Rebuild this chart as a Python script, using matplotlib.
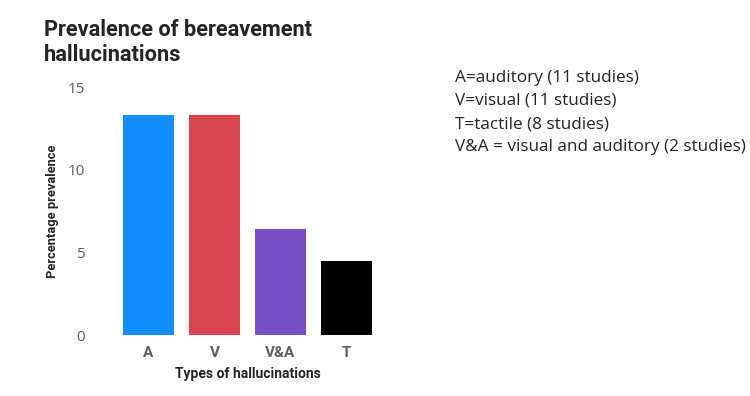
import matplotlib
matplotlib.use("Agg")
import matplotlib.pyplot as plt

# data
types = ['A', 'V', 'V&A', 'T']
prevalence = [13.3, 13.3, 6.4, 4.5]
bar_colors = ['#118DFF', '#D64550', '#744EC2', '#000000']
notes = ['A=auditory (11 studies)',
         'V=visual (11 studies)',
         'T=tactile (8 studies)',
         'V&A = visual and auditory (2 studies)']

fig = plt.figure(figsize=(7.5, 3.96), dpi=100)
ax = fig.add_axes([0.154, 0.154, 0.352, 0.626])

ax.bar(range(len(types)), prevalence, width=0.77, color=bar_colors)
ax.set_xlim(-0.5, 3.5)
ax.set_ylim(0, 15)
ax.set_yticks([0, 5, 10, 15])
ax.set_xticks(range(len(types)))
ax.set_xticklabels(types, fontsize=11, fontweight='bold', color='#605E5C', family='Roboto')
for lab in ax.get_yticklabels():
    lab.set_fontsize(11)
    lab.set_color('#605E5C')
    lab.set_family('Open Sans')
ax.tick_params(length=0)
ax.tick_params(axis='y', pad=22)
ax.tick_params(axis='x', pad=8)
for s in ax.spines.values():
    s.set_visible(False)

ax.set_ylabel('Percentage prevalence', fontsize=9.3, fontweight='bold', color='#252423', family='Roboto', labelpad=6)
ax.set_xlabel('Types of hallucinations', fontsize=10, fontweight='bold', color='#252423', family='Roboto', labelpad=5)

fig.text(44 / 750, 1 - 19 / 396, 'Prevalence of bereavement\nhallucinations', fontsize=15.7,
         fontweight='bold', color='#252423', family='Roboto', va='top', ha='left', linespacing=1.15)

y0 = 77.5
for i, t in enumerate(notes):
    fig.text(455 / 750, 1 - (y0 + i * 23.3) / 396, t, fontsize=12.3, color='#252423',
             family='Open Sans', va='center', ha='left')

fig.savefig('out.png', dpi=100)
